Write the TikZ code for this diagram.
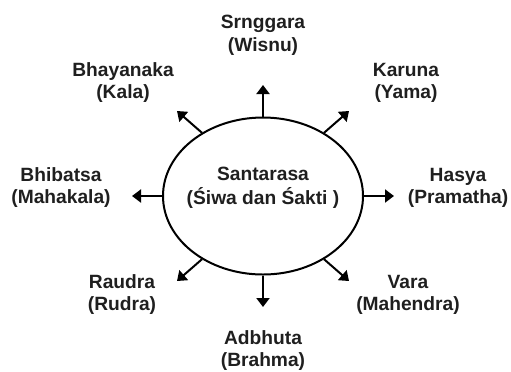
\documentclass[tikz,border=0pt]{standalone}
\usepackage{fontspec}
\setmainfont{Liberation Sans}
\usetikzlibrary{arrows.meta,shapes.geometric}
\tikzset{
  lbl/.style={anchor=base,inner sep=0pt,font=\fontsize{19.2bp}{23bp}\selectfont\bfseries,text=black!88},
  arr/.style={line width=2bp,-{Triangle[length=9bp,width=13bp]}},
  oval/.style={ellipse,draw,line width=2bp,minimum width=200bp,minimum height=157bp,inner sep=0pt}
}
\begin{document}
\begin{tikzpicture}[x=1bp,y=-1bp]
\useasboundingbox (0,0) rectangle (511,371);
\node[oval] (e) at (263,196) {};
\node[lbl] (c1) at (263,180) {Santarasa};
\node[lbl] (c2) at (263,204) {(Śiwa dan Śakti )};
% tips
\coordinate (tn) at (263,85);
\coordinate (ts) at (263,307);
\coordinate (tw) at (132,196);
\coordinate (te) at (394,196);
\coordinate (tnw) at (177,111);
\coordinate (tne) at (349,111);
\coordinate (tsw) at (177,281);
\coordinate (tse) at (349,281);
\draw[arr] (e.north) -- (tn);
\draw[arr] (e.south) -- (ts);
\draw[arr] (e.west) -- (tw);
\draw[arr] (e.east) -- (te);
\draw[arr] (e.134) -- (tnw);
\draw[arr] (e.46) -- (tne);
\draw[arr] (e.226) -- (tsw);
\draw[arr] (e.314) -- (tse);
% labels
\node[lbl] (n1) at (263,28) {Srnggara};
\node[lbl] (n2) at (263,51) {(Wisnu)};
\node[lbl] (nw1) at (123,76) {Bhayanaka};
\node[lbl] (nw2) at (123,98) {(Kala)};
\node[lbl] (ne1) at (406,76) {Karuna};
\node[lbl] (ne2) at (406,98) {(Yama)};
\node[lbl] (w1) at (61,181) {Bhibatsa};
\node[lbl] (w2) at (61,203) {(Mahakala)};
\node[lbl] (e1) at (458,181) {Hasya};
\node[lbl] (e2) at (458,203) {(Pramatha)};
\node[lbl] (sw1) at (122,288) {Raudra};
\node[lbl] (sw2) at (122,310) {(Rudra)};
\node[lbl] (se1) at (408,288) {Vara};
\node[lbl] (se2) at (408,310) {(Mahendra)};
\node[lbl] (s1) at (263,344) {Adbhuta};
\node[lbl] (s2) at (263,366) {(Brahma)};
\end{tikzpicture}
\end{document}
